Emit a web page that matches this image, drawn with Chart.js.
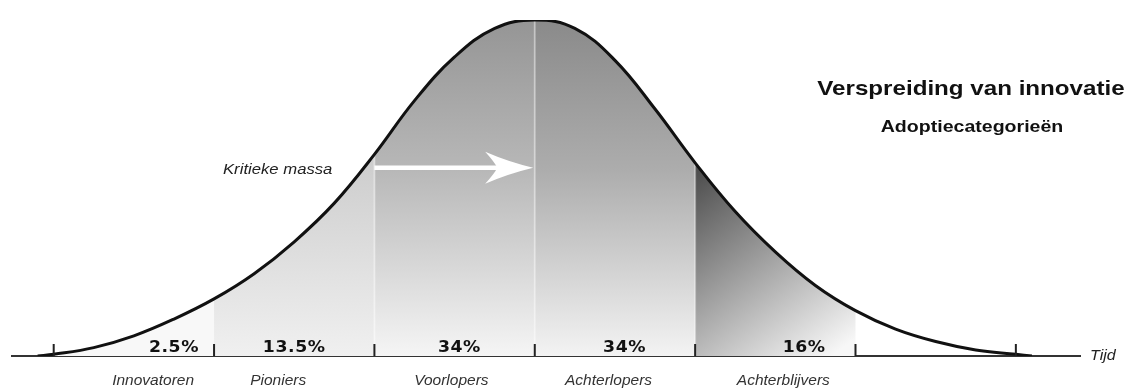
<!DOCTYPE html>
<html>
<head>
<meta charset="utf-8">
<script src="https://cdn.jsdelivr.net/npm/chart.js@4.4.1/dist/chart.umd.min.js"></script>
<style>
  html, body { margin: 0; padding: 0; background: #fff; }
  #wrap { width: 1135px; height: 388px; }
</style>
</head>
<body>
<div id="wrap"><canvas id="chart"></canvas></div>
<script>
// curve (x in standard deviations, y in % of the peak)
const SIGMA = [-3.1, -3, -2.75, -2.5, -2.25, -2, -1.75, -1.5, -1.25, -1, -0.75, -0.5, -0.25,
               0, 0.25, 0.5, 0.75, 1, 1.25, 1.5, 1.75, 2, 2.25, 2.5, 2.75, 3, 3.1]
const CURVE = [0, 0.5, 2.5, 6, 11, 17, 24.5, 34, 45.5, 60, 76, 89, 97.5,
               100, 97.5, 88, 73.5, 57.5, 43, 31, 21, 13.5, 8, 4.3, 1.8, 0.5, 0]

const CATEGORIES = ['Innovatoren', 'Pioniers', 'Voorlopers', 'Achterlopers', 'Achterblijvers']
const SHARES = ['2.5%', '13.5%', '34%', '34%', '16%']
const TICKS = [-3, -2, -1, 0, 1, 2, 3]

// where the labels sit on the sigma axis
const CAT_AT = [-2.38, -1.6, -0.52, 0.46, 1.55]
const SHARE_AT = [-2.25, -1.5, -0.47, 0.56, 1.68]

const X_MIN = -3.26
const X_MAX = 3.40
const STRETCH = 1.15   // the original lettering is a bit wide

function wideText(ctx, txt, x, y, font, align, color) {
    ctx.save()
    ctx.font = font
    ctx.fillStyle = color || '#111'
    ctx.textAlign = align || 'center'
    ctx.textBaseline = 'alphabetic'
    ctx.translate(x, y)
    ctx.scale(STRETCH, 1)
    ctx.fillText(txt, 0, 0)
    ctx.restore()
}

// grey bands under the curve, painted on a canvas and used as a fill pattern
function buildShade(chart) {
    const area = chart.chartArea
    const x = chart.scales.x
    const c = document.createElement('canvas')
    c.width = chart.canvas.width
    c.height = chart.canvas.height
    const g = c.getContext('2d')
    const px = v => x.getPixelForValue(v)
    const top = area.top, bot = area.bottom

    g.fillStyle = '#f8f8f8'
    g.fillRect(px(-3.2), top, px(-2) - px(-3.2), bot - top)

    let gr = g.createLinearGradient(0, 160, 0, bot)
    gr.addColorStop(0, '#cdcdcd')
    gr.addColorStop(1, '#f0f0f0')
    g.fillStyle = gr
    g.fillRect(px(-2), top, px(-1) - px(-2), bot - top)

    gr = g.createLinearGradient(0, top, 0, bot)
    gr.addColorStop(0, '#959595')
    gr.addColorStop(0.45, '#b8b8b8')
    gr.addColorStop(1, '#f5f5f5')
    g.fillStyle = gr
    g.fillRect(px(-1), top, px(0) - px(-1), bot - top)

    gr = g.createLinearGradient(0, top, 0, bot)
    gr.addColorStop(0, '#8a8a8a')
    gr.addColorStop(0.45, '#adadad')
    gr.addColorStop(1, '#f3f3f3')
    g.fillStyle = gr
    g.fillRect(px(0), top, px(1) - px(0), bot - top)

    gr = g.createLinearGradient(px(1), 170, px(1.85), bot)
    gr.addColorStop(0, '#4c4c4c')
    gr.addColorStop(1, '#f7f7f7')
    g.fillStyle = gr
    g.fillRect(px(1), top, px(2) - px(1), bot - top)

    // light seams between the bands
    g.fillStyle = 'rgba(255,255,255,0.35)'
    for (const s of [-1, 0, 1]) g.fillRect(px(s) - 1, top, 2, bot - top)

    return g.createPattern(c, 'no-repeat')
}

const extras = {
    id: 'extras',
    afterDatasetsDraw(chart) {
        const ctx = chart.ctx
        const x = chart.scales.x, y = chart.scales.y
        const bot = chart.chartArea.bottom

        // white arrow at the critical mass
        const ay = y.getPixelForValue(56)
        const x0 = x.getPixelForValue(-1.0), x1 = x.getPixelForValue(-0.01)
        ctx.save()
        ctx.strokeStyle = '#fff'
        ctx.fillStyle = '#fff'
        ctx.lineWidth = 4.5
        ctx.beginPath()
        ctx.moveTo(x0, ay)
        ctx.lineTo(x1 - 30, ay)
        ctx.stroke()
        ctx.beginPath()
        ctx.moveTo(x1, ay)
        ctx.quadraticCurveTo(x1 - 25, ay - 6, x1 - 48, ay - 16)
        ctx.quadraticCurveTo(x1 - 38, ay - 5, x1 - 36, ay)
        ctx.quadraticCurveTo(x1 - 38, ay + 5, x1 - 48, ay + 16)
        ctx.quadraticCurveTo(x1 - 25, ay + 6, x1, ay)
        ctx.fill()
        ctx.restore()

        // tick marks standing on the axis
        ctx.save()
        ctx.fillStyle = '#222'
        for (const t of TICKS) {
            const tx = x.getPixelForValue(t)
            ctx.fillRect(tx - 1, bot - 12, 2, 12)
        }
        ctx.restore()

        // shares
        ctx.save()
        ctx.letterSpacing = '0.5px'
        SHARES.forEach((s, i) => {
            wideText(ctx, s, x.getPixelForValue(SHARE_AT[i]), bot - 4, 'bold 15px "DejaVu Sans"', 'center', '#111')
        })
        ctx.restore()
    },
    afterDraw(chart) {
        const ctx = chart.ctx
        wideText(ctx, 'Verspreiding van innovatie', 971, 95, 'bold 21px "Liberation Sans", Arial', 'center', '#111')
        wideText(ctx, 'Adoptiecategorieën', 972, 132, 'bold 17px "Liberation Sans", Arial', 'center', '#111')
        wideText(ctx, 'Kritieke massa', 223, 174, 'italic 14.5px "Liberation Sans", Arial', 'left', '#222')
        wideText(ctx, 'Tijd', 1090, 360, 'italic 14px "Liberation Sans", Arial', 'left', '#222')
    }
}

const chart = new Chart(document.getElementById('chart'), {
    type: 'line',
    data: {
        datasets: [{
            label: 'Adoptie',
            data: SIGMA.map((s, i) => ({ x: s, y: CURVE[i] })),
            borderColor: '#111',
            borderWidth: 3,
            pointRadius: 0,
            tension: 0.4,
            fill: 'origin',
            backgroundColor: 'rgba(0,0,0,0)'
        }]
    },
    options: {
        responsive: true,
        maintainAspectRatio: false,
        animation: false,
        // the category row hangs below the axis; its box is centred on the labels
        layout: { padding: { left: 12, right: 55, top: 20, bottom: -18 } },
        plugins: {
            legend: { display: false },
            tooltip: { enabled: false }
        },
        scales: {
            x: {
                type: 'linear',
                min: X_MIN,
                max: X_MAX,
                z: 1,
                grid: { display: false, drawTicks: false },
                ticks: { display: false },
                border: { display: true, color: '#333', width: 2 }
            },
            x2: {
                type: 'linear',
                position: 'bottom',
                weight: 1,
                min: X_MIN,
                max: X_MAX,
                grid: { display: false, drawTicks: false },
                border: { display: false },
                afterBuildTicks: axis => { axis.ticks = CAT_AT.map(v => ({ value: v })) },
                ticks: {
                    autoSkip: false,
                    maxRotation: 0,
                    padding: 17.25,
                    color: '#333',
                    font: { family: '"Liberation Sans", Arial', size: 15.5, style: 'italic', lineHeight: 1 },
                    callback: (v, i) => CATEGORIES[i]
                }
            },
            y: {
                display: false,
                min: 0,
                max: 100
            }
        }
    },
    plugins: [extras]
})

chart.data.datasets[0].backgroundColor = buildShade(chart)
chart.update('none')
</script>
</body>
</html>
